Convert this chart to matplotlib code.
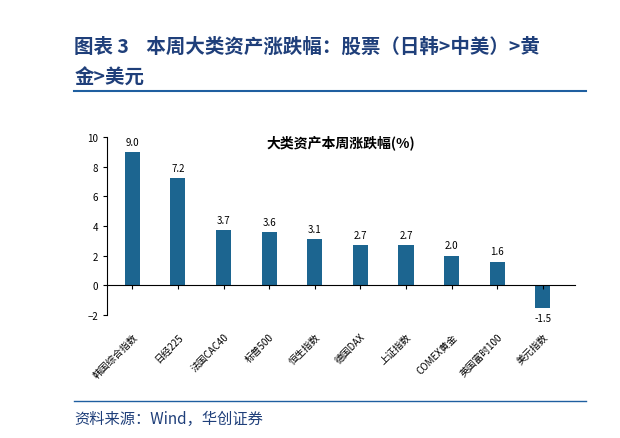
import matplotlib
matplotlib.use("Agg")
import matplotlib.pyplot as plt
from matplotlib.lines import Line2D

plt.rcParams['font.family'] = ['Noto Sans CJK SC', 'DejaVu Sans']

categories = ['韩国综合指数', '日经225', '法国CAC40', '标普500', '恒生指数', '德国DAX', '上证指数', 'COMEX黄金', '英国富时100', '美元指数']
values = [9.0, 7.2, 3.7, 3.6, 3.1, 2.7, 2.7, 2.0, 1.6, -1.5]
yticks = [-2, 0, 2, 4, 6, 8, 10]

fig = plt.figure(figsize=(6.2, 4.39), dpi=100)
fig.text(0.12, 0.88, '图表 3    本周大类资产涨跌幅：股票（日韩>中美）>黄', color='#1F3F7A', fontsize=14, fontweight='bold')
fig.text(0.12, 0.81, '金>美元', color='#1F3F7A', fontsize=14, fontweight='bold')
fig.add_artist(Line2D([0.12, 0.945], [0.79, 0.79], color='#1F5FA0', lw=1.5))
fig.add_artist(Line2D([0.12, 0.945], [0.085, 0.085], color='#1F5FA0', lw=1.0))
fig.text(0.12, 0.035, '资料来源：Wind，华创证券', color='#1F3F7A', fontsize=11, style='italic')

ax = fig.add_axes([0.173, 0.28, 0.754, 0.406])
x = list(range(len(categories)))
ax.bar(x, values, width=0.33, color='#1C6590')
for i, v in zip(x, values):
    if v >= 0:
        ax.text(i, v + 0.35, f'{v:.1f}', ha='center', va='bottom', fontsize=7)
    else:
        ax.text(i, v - 0.35, f'{v:.1f}', ha='center', va='top', fontsize=7)
ax.set_ylim(-2, 10)
ax.set_xlim(-0.55, 9.7)
ax.set_yticks(yticks)
ax.tick_params(axis='y', labelsize=7, length=3)
ax.spines['top'].set_visible(False)
ax.spines['right'].set_visible(False)
ax.spines['bottom'].set_position(('data', 0))
ax.set_xticks(x)
ax.set_xticklabels(categories, fontsize=7)
ax.tick_params(axis='x', length=3, pad=30)
for lab in ax.get_xticklabels():
    lab.set_rotation(45)
    lab.set_ha('right')
    lab.set_rotation_mode('anchor')
ax.set_title('大类资产本周涨跌幅(%)', fontsize=10, fontweight='bold', y=0.9)
fig.savefig('out.png', dpi=100)
